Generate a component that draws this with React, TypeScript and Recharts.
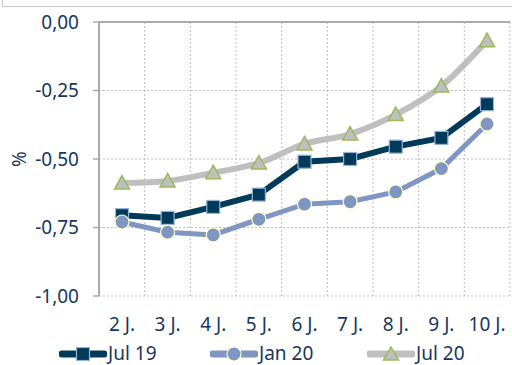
import { LineChart, Line, XAxis, YAxis, CartesianGrid, ReferenceLine } from "recharts";

const categories = ["2 J.", "3 J.", "4 J.", "5 J.", "6 J.", "7 J.", "8 J.", "9 J.", "10 J."];
const jul19 = [-0.705, -0.715, -0.675, -0.63, -0.51, -0.5, -0.455, -0.423, -0.3];
const jan20 = [-0.73, -0.767, -0.777, -0.72, -0.665, -0.656, -0.62, -0.535, -0.372];
const jul20 = [-0.588, -0.58, -0.55, -0.515, -0.445, -0.409, -0.338, -0.234, -0.068];
const yTicks = [0, -0.25, -0.5, -0.75, -1];

const data = categories.map((cat, i) => ({
  cat,
  jul19: jul19[i],
  jan20: jan20[i],
  jul20: jul20[i],
}));

const TEXT = "#17375E";
const NAVY = "#023A59";
const BLUE = "#7F96C2";
const GRAY = "#BFBFBF";
const GREEN = "#9BBB59";
const FONT = "'Noto Sans', sans-serif";

const fmt = (v: number) => v.toFixed(2).replace(".", ",");

function squareDot(props: any) {
  const { cx, cy, index } = props;
  return (
    <rect key={"s" + index} x={cx - 6.5} y={cy - 6.5} width={13} height={13}
      fill={NAVY} stroke="#95B3D7" strokeWidth={1.2} />
  );
}

function circleDot(props: any) {
  const { cx, cy, index } = props;
  return <circle key={"c" + index} cx={cx} cy={cy} r={7} fill={BLUE} stroke="#FFFFC8" strokeWidth={1.2} />;
}

function triangleDot(props: any) {
  const { cx, cy, index } = props;
  const pts = `${cx},${cy - 7.5} ${cx + 7.5},${cy + 6} ${cx - 7.5},${cy + 6}`;
  return <polygon key={"t" + index} points={pts} fill={GRAY} stroke={GREEN} strokeWidth={1.5} />;
}

function LegendIcon({ kind, color }: { kind: string; color: string }) {
  return (
    <svg width={48} height={16} style={{ display: "block" }}>
      <line x1={3} y1={8} x2={45} y2={8} stroke={color} strokeWidth={7} strokeLinecap="round" />
      {kind === "square" && <rect x={17.5} y={1.5} width={13} height={13} fill={NAVY} stroke="#95B3D7" strokeWidth={1.2} />}
      {kind === "circle" && <circle cx={24} cy={8} r={7} fill={BLUE} stroke="#FFFFC8" strokeWidth={1.2} />}
      {kind === "triangle" && <polygon points="24,1 31.5,14 16.5,14" fill={GRAY} stroke={GREEN} strokeWidth={1.5} />}
    </svg>
  );
}

const legendItems = [
  { name: "Jul 19", kind: "square", color: NAVY, left: 62 },
  { name: "Jan 20", kind: "circle", color: BLUE, left: 213 },
  { name: "Jul 20", kind: "triangle", color: GRAY, left: 370 },
];

export default function App() {
  return (
    <div style={{ position: "absolute", left: 0, top: 0, width: 512, height: 365, overflow: "hidden", background: "#fff", fontFamily: FONT }}>
      <div style={{ position: "absolute", left: 2, top: -20, width: 540, height: 25, border: "1.5px solid #C8C8C8" }} />
      <LineChart width={512} height={365} data={data} margin={{ top: 22, right: 2, left: 0, bottom: 0 }}>
        <CartesianGrid
          stroke={GRAY}
          strokeDasharray="2 2"
          verticalCoordinatesGenerator={({ offset }: any) =>
            categories.map((_, i) => offset.left + ((i + 1) * offset.width) / categories.length)
          }
        />
        <XAxis
          dataKey="cat"
          height={69}
          padding={{ left: 23, right: 23 }}
          axisLine={false}
          tickLine={false}
          tickMargin={16}
          tick={{ fill: TEXT, fontSize: 19, fontFamily: FONT }}
          interval={0}
        />
        <YAxis
          width={99}
          domain={[-1, 0]}
          ticks={yTicks}
          tickFormatter={fmt}
          axisLine={{ stroke: "#ABABAB", strokeWidth: 2 }}
          tickLine={{ stroke: "#ABABAB", strokeWidth: 1.5 }}
          tickSize={6}
          tickMargin={14}
          tick={{ fill: TEXT, fontSize: 19, fontFamily: FONT }}
          label={{
            content: ({ viewBox }: any) => (
              <text
                x={viewBox.x + 19}
                y={viewBox.y + viewBox.height / 2}
                transform={`rotate(-90 ${viewBox.x + 19} ${viewBox.y + viewBox.height / 2})`}
                textAnchor="middle"
                dominantBaseline="central"
                fill={TEXT}
                fontSize={19}
                fontFamily={FONT}
              >
                %
              </text>
            ),
          }}
        />
        <ReferenceLine y={0} stroke="#ABABAB" strokeWidth={2} />
        <Line type="linear" dataKey="jul19" name="Jul 19" stroke={NAVY} strokeWidth={6} dot={squareDot} isAnimationActive={false} />
        <Line type="linear" dataKey="jan20" name="Jan 20" stroke={BLUE} strokeWidth={5} dot={circleDot} isAnimationActive={false} />
        <Line type="monotone" dataKey="jul20" name="Jul 20" stroke={GRAY} strokeWidth={6} dot={triangleDot} isAnimationActive={false} />
      </LineChart>
      {legendItems.map((it) => (
        <div key={it.name} style={{ position: "absolute", left: it.left - 3, top: 344, height: 19, display: "flex", alignItems: "center", color: TEXT, fontSize: 19, lineHeight: "19px" }}>
          <LegendIcon kind={it.kind} color={it.color} />
          <span style={{ marginLeft: 1 }}>{it.name}</span>
        </div>
      ))}
    </div>
  );
}
